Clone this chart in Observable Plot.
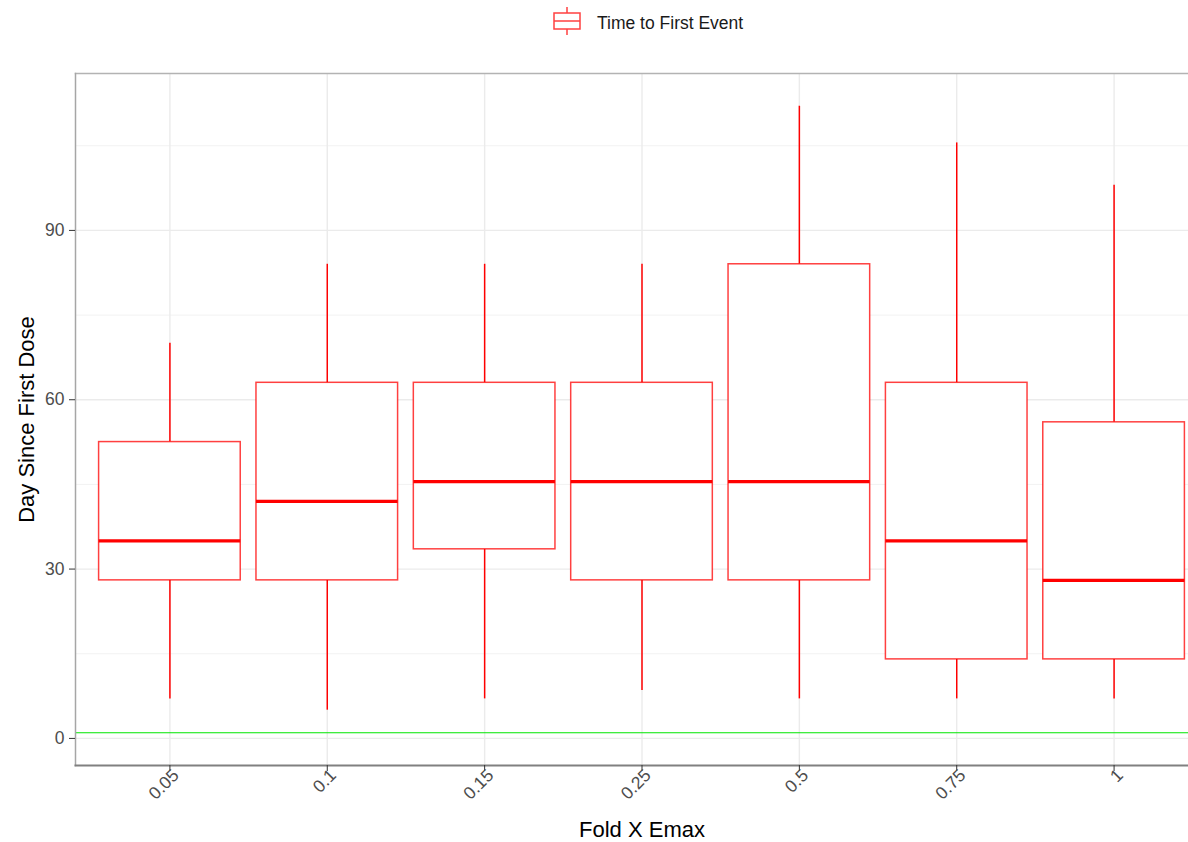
<!DOCTYPE html>
<html><head><meta charset="utf-8">
<script src="https://cdn.jsdelivr.net/npm/d3@7"></script>
<script src="https://cdn.jsdelivr.net/npm/@observablehq/plot@0.6"></script>
<style>
html,body{margin:0;padding:0;background:#fff;overflow:hidden;width:1188px;height:842px;}
#legend{height:45px;position:relative;font-family:"Liberation Sans",Arial,sans-serif;}
#legend svg{position:absolute;left:553px;top:5px;}
#legend span{position:absolute;left:597px;top:13px;font-size:17.5px;color:#1a1a1a;line-height:20px;white-space:nowrap;}
#chart svg{display:block;}
</style></head><body>
<div id="legend"></div>
<div id="chart"></div>
<script>
// ---- data ----
const categories = ["0.05", "0.1", "0.15", "0.25", "0.5", "0.75", "1"];
const whiskerLow  = [7, 5, 7, 8.5, 7, 7, 7];
const q1          = [28, 28, 33.5, 28, 28, 14, 14];
const median      = [35, 42, 45.5, 45.5, 45.5, 35, 28];
const q3          = [52.5, 63, 63, 63, 84, 63, 56];
const whiskerHigh = [70, 84, 84, 84, 112, 105.5, 98];
const referenceLine = [1];
const yTicks = [0, 30, 60, 90];
const yMinorTicks = [15, 45, 75, 105];
const seriesName = "Time to First Event";
const xTitle = "Fold X Emax";
const yTitle = "Day Since First Dose";

const rows = categories.map((c, i) => ({
  cat: c, lo: whiskerLow[i], q1: q1[i], med: median[i], q3: q3[i], hi: whiskerHigh[i]
}));

// ---- legend ----
const leg = document.getElementById("legend");
leg.innerHTML = `<svg width="28" height="34" viewBox="0 0 28 34">
  <line x1="14" x2="14" y1="2" y2="30" stroke="#ff4040" stroke-width="1.5"/>
  <rect x="1" y="8" width="26" height="16" fill="white" stroke="#ff4040" stroke-width="1.5"/>
  <line x1="1" x2="27" y1="16" y2="16" stroke="#ff4040" stroke-width="1.5"/>
</svg><span></span>`;
leg.querySelector("span").textContent = seriesName;

// ---- chart ----
const font = "Liberation Sans, Arial, sans-serif";
const red = "#ff0000";
const chart = Plot.plot({
  width: 1188,
  height: 797,
  marginTop: 28,
  marginBottom: 77,
  marginLeft: 75,
  marginRight: 0,
  style: {fontFamily: font, background: "white", overflow: "hidden"},
  x: {type: "band", domain: categories, range: [75, 1208], paddingInner: 0.1, paddingOuter: 0.15, round: false, axis: null},
  y: {domain: [-4.8, 117.8], axis: null},
  marks: [
    Plot.gridY(yMinorTicks, {stroke: "#f2f2f2", strokeOpacity: 1, strokeWidth: 1}),
    Plot.gridY(yTicks, {stroke: "#ebebeb", strokeOpacity: 1, strokeWidth: 1.4}),
    Plot.gridX(categories, {stroke: "#ebebeb", strokeOpacity: 1, strokeWidth: 1.4}),
    Plot.ruleX(rows, {x: "cat", y1: "lo", y2: "q1", stroke: red, strokeWidth: 1.5}),
    Plot.ruleX(rows, {x: "cat", y1: "q3", y2: "hi", stroke: red, strokeWidth: 1.5}),
    Plot.barY(rows, {x: "cat", y1: "q1", y2: "q3", fill: "white", stroke: red, strokeWidth: 1.5, strokeOpacity: 0.75}),
    Plot.tickY(rows, {x: "cat", y: "med", stroke: red, strokeWidth: 3.2}),
    Plot.ruleY(referenceLine, {stroke: "#00e600", strokeWidth: 1.2}),
    Plot.frame({anchor: "top", stroke: "#b3b3b3", strokeWidth: 1.5}),
    Plot.frame({anchor: "left", stroke: "#a6a6a6", strokeWidth: 1.5}),
    Plot.frame({anchor: "bottom", stroke: "#808080", strokeWidth: 2}),
    Plot.axisY(yTicks, {anchor: "left", tickSize: 6, tickPadding: 5, fontSize: 17.5, stroke: "#333333", fill: "#4d4d4d", label: null}),
    Plot.axisX(categories, {anchor: "bottom", tickSize: 6, tickPadding: 4, tickRotate: -45, fontSize: 17.5, stroke: "#333333", fill: "none", label: null}),
    Plot.axisX(categories, {anchor: "bottom", tickSize: 0, tickPadding: 9, tickRotate: -45, fontSize: 17.5, dx: 6, dy: -2, fill: "#4d4d4d", label: null}),
    Plot.text([xTitle], {frameAnchor: "bottom", lineAnchor: "middle", dx: 10, dy: 64, fontSize: 22, fill: "black"}),
    Plot.text([yTitle], {frameAnchor: "left", textAnchor: "middle", dx: -49, rotate: -90, fontSize: 22, fill: "black"})
  ]
});
document.getElementById("chart").appendChild(chart);
</script>
</body></html>
